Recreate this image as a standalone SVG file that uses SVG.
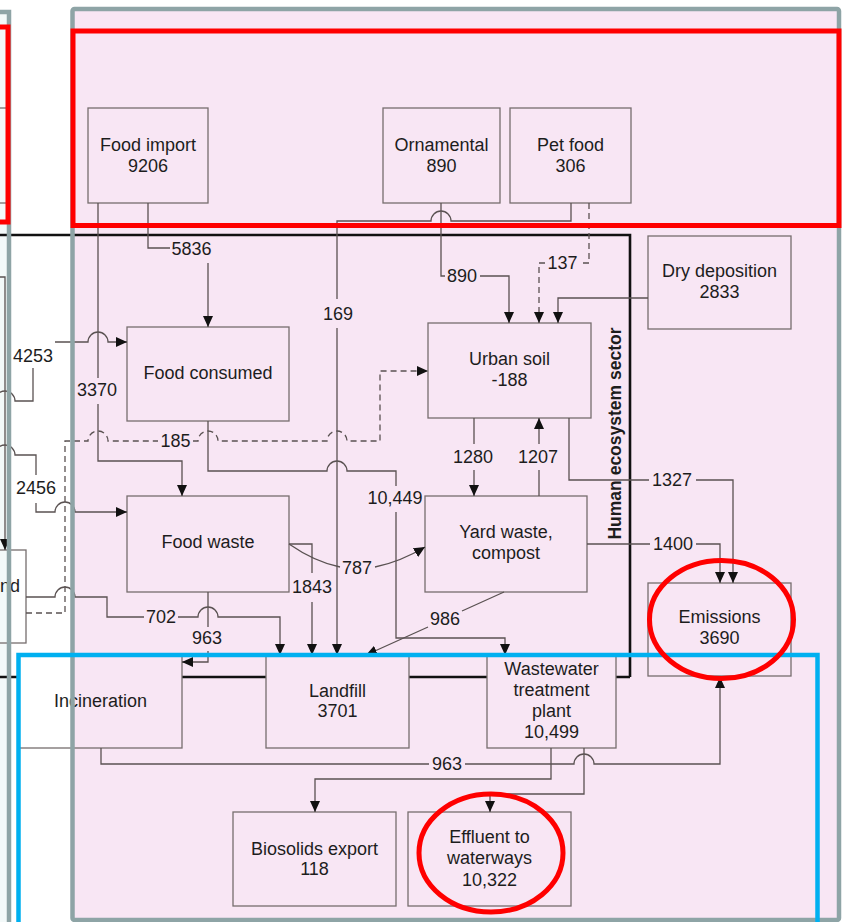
<svg xmlns="http://www.w3.org/2000/svg" width="844" height="922" viewBox="0 0 844 922">
<style>
.box{fill:none;stroke:#766e6e;stroke-width:1.3}
.t{font-family:"Liberation Sans",Arial,sans-serif;font-size:18px;fill:#1d1d1d;text-anchor:middle}
.c{fill:none;stroke:#5a5252;stroke-width:1.3;marker-end:url(#ah)}
.n{fill:none;stroke:#5a5252;stroke-width:1.3}
.d{stroke-dasharray:6 4}
.hl{fill:none;stroke:#ff0000;stroke-width:5}
.frame{fill:none;stroke:#8ea4a6;stroke-width:4.5}
.sec{fill:none;stroke:#111;stroke-width:2.6}
</style>
<defs>
<marker id="ah" viewBox="0 0 10 10" refX="10" refY="5" markerWidth="11" markerHeight="10" markerUnits="userSpaceOnUse" orient="auto" preserveAspectRatio="none"><path d="M0,0 L10,5 L0,10 z" fill="#111"/></marker>
</defs>
<rect x="0" y="0" width="844" height="922" fill="#ffffff"/>
<rect x="-20" y="12" width="29" height="930" fill="#f3f9f9"/>
<rect x="72.5" y="9" width="766.5" height="911" fill="#f8e6f4"/>

<g id="sector-boundary">
<path class="sec" d="M-5,235 H630 V677 M616,677 H630 M409,677 H487 M182,677 H266 M-5,677 H19"/>
<text x="0" y="0" transform="translate(621,433.5) rotate(-90)" font-family="'Liberation Sans',Arial,sans-serif" font-size="17.5" font-weight="bold" fill="#1d1d1d" text-anchor="middle">Human ecosystem sector</text>
</g>

<g id="left-node"><rect class="box" x="-20" y="108" width="28" height="95"/></g>
<g id="nd-node"><rect class="box" x="-20" y="550" width="46" height="93"/><text class="t" x="20" y="592" style="text-anchor:end">nd</text></g>
<g id="food-import"><rect class="box" x="88" y="108" width="120" height="95"/><text class="t" x="148" y="151">Food import</text><text class="t" x="148" y="172">9206</text></g>
<g id="ornamental"><rect class="box" x="383" y="108" width="117" height="95"/><text class="t" x="441.5" y="151">Ornamental</text><text class="t" x="441.5" y="172">890</text></g>
<g id="pet-food"><rect class="box" x="510" y="108" width="121" height="95"/><text class="t" x="570.5" y="151">Pet food</text><text class="t" x="570.5" y="172">306</text></g>
<g id="dry-deposition"><rect class="box" x="648" y="236" width="143" height="93"/><text class="t" x="719.5" y="277">Dry deposition</text><text class="t" x="719.5" y="298">2833</text></g>
<g id="food-consumed"><rect class="box" x="127" y="327" width="162" height="94"/><text class="t" x="208" y="379">Food consumed</text></g>
<g id="urban-soil"><rect class="box" x="428" y="323" width="163" height="95"/><text class="t" x="509.5" y="365">Urban soil</text><text class="t" x="509.5" y="386">-188</text></g>
<g id="food-waste"><rect class="box" x="127" y="496" width="162" height="96"/><text class="t" x="208" y="548">Food waste</text></g>
<g id="yard-waste"><rect class="box" x="425" y="496" width="162" height="96"/><text class="t" x="506" y="538">Yard waste,</text><text class="t" x="506" y="559">compost</text></g>
<g id="emissions"><rect class="box" x="648" y="583" width="143" height="93"/><text class="t" x="719.5" y="623">Emissions</text><text class="t" x="719.5" y="644">3690</text></g>
<g id="incineration"><rect class="box" x="19" y="655" width="163" height="93"/><text class="t" x="100.5" y="707">Incineration</text></g>
<g id="landfill"><rect class="box" x="266" y="655" width="143" height="93"/><text class="t" x="337.5" y="697">Landfill</text><text class="t" x="337.5" y="717">3701</text></g>
<g id="wwtp"><rect class="box" x="487" y="655" width="129" height="93"/><text class="t" x="551.5" y="675">Wastewater</text><text class="t" x="551.5" y="696">treatment</text><text class="t" x="551.5" y="717">plant</text><text class="t" x="551.5" y="738">10,499</text></g>
<g id="biosolids"><rect class="box" x="233" y="812" width="163" height="94"/><text class="t" x="314.5" y="855">Biosolids export</text><text class="t" x="314.5" y="875">118</text></g>
<g id="effluent"><rect class="box" x="408" y="812" width="163" height="94"/><text class="t" x="489.5" y="843">Effluent to</text><text class="t" x="489.5" y="864">waterways</text><text class="t" x="489.5" y="886">10,322</text></g>

<g id="connectors">
<path class="c" d="M-5,277 H5 V550"/>
<path class="c" d="M148,203 V248 H170 M208,263 V327"/>
<path class="c" d="M98,203 V378 M98,404 V461 H182 V496"/>
<path class="c" d="M571,203 V221 H451 a10,10 0 0 0 -20,0 H337 V299 M337,328 V655"/>
<path class="c" d="M441,203 V276 H445 M480,276 H509 V323"/>
<path class="c d" d="M589,203 V263 H582 M545,263 H539 V323"/>
<path class="c" d="M648,298 H558 V323"/>
<path class="c" d="M-6,401 H-5 a10,10 0 0 1 20,0 H33 V368 M55,342 H88 a10,10 0 0 1 20,0 H127"/>
<path class="c" d="M-6,455 H-5 a10,10 0 0 1 20,0 H36 V475 M36,503 V512 H55 a10,10 0 0 1 20,0 H127"/>
<path class="c d" d="M26,613 H65 V441 H88 a10,10 0 0 1 20,0 H158 M193,441 H198 a10,10 0 0 1 20,0 H327 a10,10 0 0 1 20,0 H380 V371 H428"/>
<path class="c" d="M208,421 V471 H327 a10,10 0 0 1 20,0 H396 V486 M396,512 V638 H505 V655"/>
<path class="c" d="M474,418 V444 M474,470 V496"/>
<path class="c" d="M539,496 V470 M539,444 V418"/>
<path class="c" d="M569,418 V480 H649 M696,480 H733 V583"/>
<path class="c" d="M587,544 H650 M696,544 H720 V583"/>
<path class="c" d="M289,544 Q315,562 340,567 M375,567 Q400,562 425,547"/>
<path class="c" d="M289,544 H312 V573 M312,602 V655"/>
<path class="c" d="M26,597 H55 a10,10 0 0 1 20,0 H107 V617 H144 M178,617 H198 a10,10 0 0 1 20,0 H280 V655"/>
<path class="c" d="M208,592 V627 M208,651 V662 H182"/>
<path class="c" d="M504,592 L462,611 M428,627 L366,655"/>
<path class="c" d="M101,748 V764 H429 M465,764 H574 a10,10 0 0 1 20,0 H720 V677"/>
<path class="c" d="M551,748 V779 H315 V812"/>
<path class="c" d="M584,748 V794 H490 V812"/>
<g class="t">
<text x="191.5" y="255">5836</text>
<text x="97" y="396">3370</text>
<text x="338" y="320">169</text>
<text x="462" y="282">890</text>
<text x="562.5" y="269">137</text>
<text x="33" y="362">4253</text>
<text x="36" y="494">2456</text>
<text x="175.5" y="447">185</text>
<text x="395" y="504">10,449</text>
<text x="473" y="463">1280</text>
<text x="538" y="463">1207</text>
<text x="672" y="486">1327</text>
<text x="673" y="550">1400</text>
<text x="357" y="574">787</text>
<text x="312" y="593">1843</text>
<text x="161" y="623">702</text>
<text x="207" y="644">963</text>
<text x="445" y="625">986</text>
<text x="447" y="770">963</text>
</g>
</g>

<g id="frames">
<path class="frame" d="M-5,12 H9 V930"/>
<rect class="frame" x="72.5" y="9" width="766.5" height="911" rx="2"/>
<rect x="18.5" y="655" width="799" height="300" fill="none" stroke="#00b0f0" stroke-width="4.5"/>
<rect class="hl" x="-20" y="27" width="28" height="195"/>
<rect class="hl" x="73" y="31" width="766" height="194.5"/>
<ellipse class="hl" cx="721.5" cy="619.5" rx="72" ry="59" stroke-width="4.5"/>
<ellipse class="hl" cx="491" cy="853" rx="72" ry="59" stroke-width="4.5"/>
</g>
</svg>
